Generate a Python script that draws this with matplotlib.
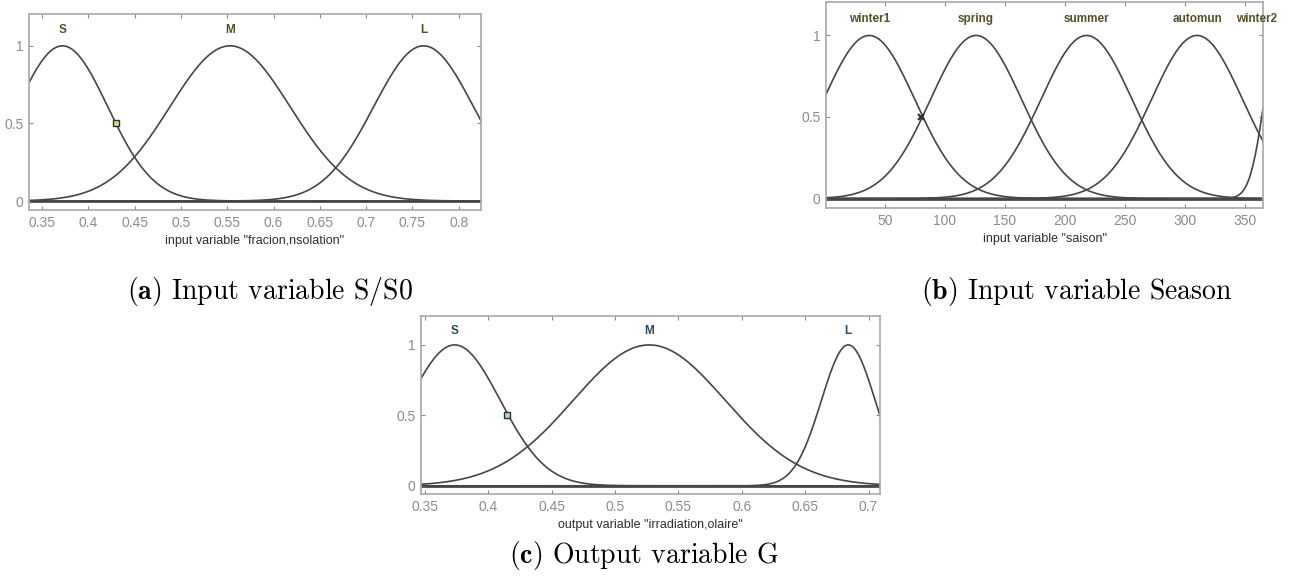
import matplotlib.pyplot as plt
import numpy as np

plt.rcParams['mathtext.fontset'] = 'cm'

# gaussian membership functions: centres and widths
a_names = ['S', 'M', 'L']
a_centers = [0.372, 0.553, 0.762]
a_sigmas = [0.049, 0.065, 0.054]
a_xlim = (0.336, 0.824)
a_ticks = [0.35, 0.4, 0.45, 0.5, 0.55, 0.6, 0.65, 0.7, 0.75, 0.8]
a_ticklabels = ['0.35', '0.4', '0.45', '0.5', '0.55', '0.6', '0.65', '0.7', '0.75', '0.8']
a_point = (0.43, 0.5)

b_names = ['winter1', 'spring', 'summer', 'automun', 'winter2']
b_centers = [37, 126, 218, 310, 378]
b_sigmas = [38, 38, 38, 38, 12]
b_label_x = [37, 126, 218, 310, 360]
b_xlim = (1, 365)
b_ticks = [50, 100, 150, 200, 250, 300, 350]
b_ticklabels = ['50', '100', '150', '200', '250', '300', '350']
b_point = (80, 0.5)

c_names = ['S', 'M', 'L']
c_centers = [0.3735, 0.527, 0.684]
c_sigmas = [0.036, 0.060, 0.0212]
c_xlim = (0.347, 0.709)
c_ticks = [0.35, 0.4, 0.45, 0.5, 0.55, 0.6, 0.65, 0.7]
c_ticklabels = ['0.35', '0.4', '0.45', '0.5', '0.55', '0.6', '0.65', '0.7']
c_point = (0.415, 0.5)

line_col = '#464646'
frame_col = '#a8a8a8'
tick_col = '#8c8c8c'


def panel(ax, names, centers, sigmas, label_x, xlim, ticks, ticklabels,
          point, xlabel, name_col, point_style):
    x = np.linspace(xlim[0], xlim[1], 400)
    ax.axhline(0, color='#4a4a4a', lw=2.0, zorder=1)
    for c, s in zip(centers, sigmas):
        ax.plot(x, np.exp(-(x - c) ** 2 / (2 * s ** 2)), color=line_col, lw=1.2, zorder=2)
    for nm, lx in zip(names, label_x):
        ax.text(lx, 1.1, nm, ha='center', va='center', fontsize=8.5,
                fontweight='bold', color=name_col, family='Liberation Sans')
    ax.plot([point[0]], [point[1]], **point_style, zorder=3)
    ax.set_xlim(xlim)
    ax.set_ylim(-0.058, 1.205)
    ax.set_xticks(ticks)
    ax.set_xticklabels(ticklabels)
    ax.set_yticks([0, 0.5, 1])
    ax.set_yticklabels(['0', '0.5', '1'])
    ax.tick_params(direction='in', top=True, right=True, length=3, width=0.8,
                   color=tick_col, labelcolor=tick_col, labelsize=10, pad=4)
    for sp in ax.spines.values():
        sp.set_color(frame_col)
        sp.set_linewidth(1.2)
    for lab in ax.get_xticklabels() + ax.get_yticklabels():
        lab.set_family('Liberation Sans')
    ax.set_xlabel(xlabel, fontsize=9, color='#2e2e2e', family='Liberation Sans', labelpad=4)


fig = plt.figure(figsize=(12.92, 5.79), dpi=100)
ax_a = fig.add_axes([0.0225, 0.6373, 0.3498, 0.3385])
ax_b = fig.add_axes([0.6393, 0.6408, 0.3383, 0.3557])
ax_c = fig.add_axes([0.3259, 0.1468, 0.3552, 0.3074])

panel(ax_a, a_names, a_centers, a_sigmas, a_centers, a_xlim, a_ticks, a_ticklabels,
      a_point, 'input variable "fracion,nsolation"', '#55502a',
      dict(marker='s', ms=5, mfc='#d8d890', mec='#303030', mew=1, ls='none'))
panel(ax_b, b_names, b_centers, b_sigmas, b_label_x, b_xlim, b_ticks, b_ticklabels,
      b_point, 'input variable "saison"', '#55502a',
      dict(marker='x', ms=5, mec='#303030', mew=1.5, ls='none'))
panel(ax_c, c_names, c_centers, c_sigmas, c_centers, c_xlim, c_ticks, c_ticklabels,
      c_point, 'output variable "irradiation,olaire"', '#2c4a58',
      dict(marker='s', ms=5, mfc='#a8d8d8', mec='#303030', mew=1, ls='none'))

cap = dict(fontsize=20, family='cmr10', ha='center', va='center', color='black')
fig.text(270 / 1292, 1 - 291 / 579, r'$\mathbf{(a)}$ Input variable S/S0', **cap)
fig.text(1077 / 1292, 1 - 291 / 579, r'$\mathbf{(b)}$ Input variable Season', **cap)
fig.text(644 / 1292, 1 - 555 / 579, r'$\mathbf{(c)}$ Output variable G', **cap)

fig.savefig('out.png', dpi=100)
